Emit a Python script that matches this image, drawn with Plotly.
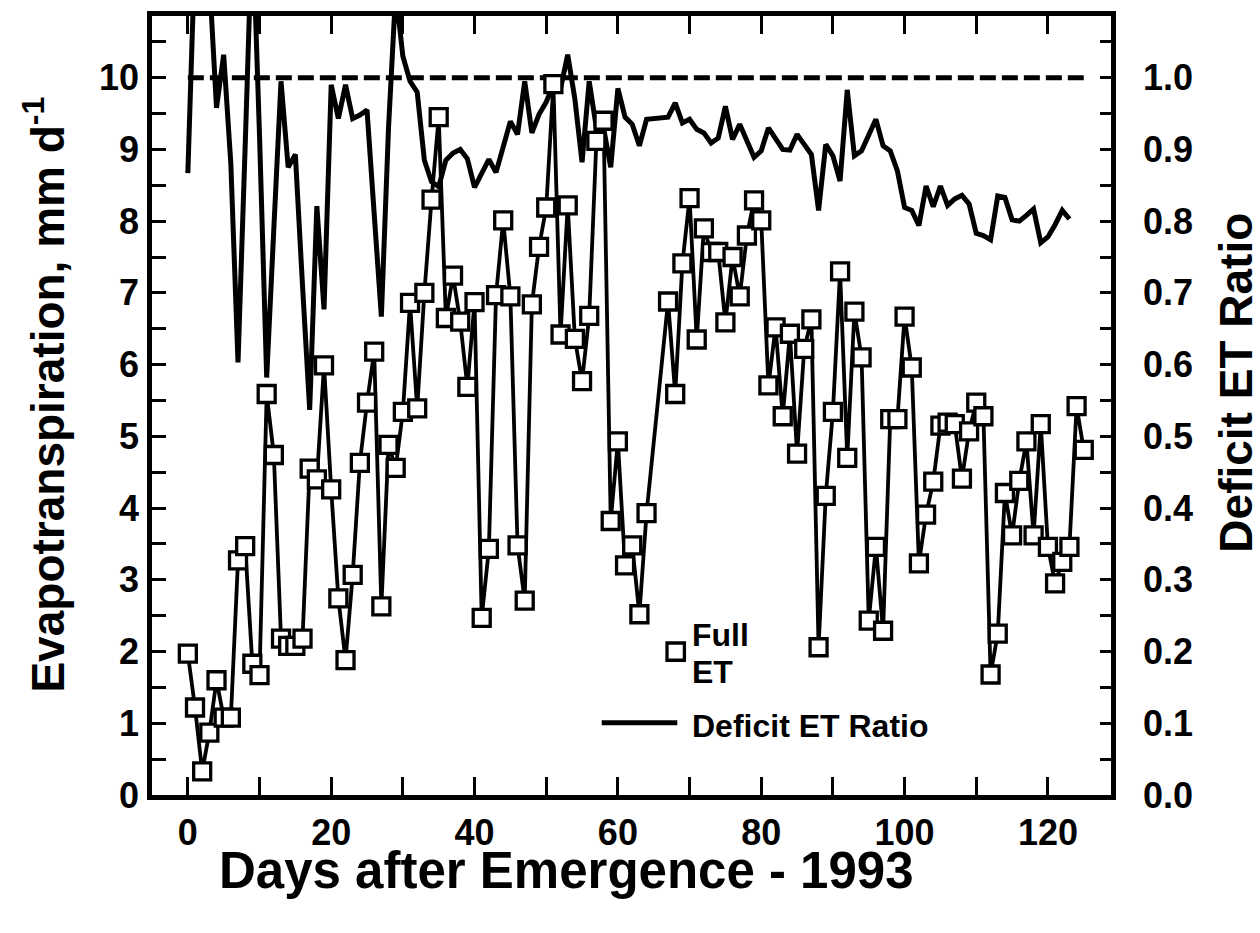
import plotly.graph_objects as go

# ---------------- data ----------------
days_full = list(range(0, 65)) + list(range(67, 126))
full_et = [
    1.97, 1.22, 0.33, 0.87, 1.60, 1.08, 1.08, 3.27, 3.47, 1.83,
    1.67, 5.59, 4.74, 2.18, 2.08, 2.08, 2.18, 4.55, 4.40, 5.99,
    4.26, 2.74, 1.88, 3.07, 4.63, 5.47, 6.18, 2.63, 4.88, 4.56,
    5.34, 6.86, 5.39, 7.00, 8.30, 9.45, 6.65, 7.24, 6.60, 5.69,
    6.87, 2.47, 3.43, 6.97, 8.01, 6.95, 3.48, 2.71, 6.84, 7.64,
    8.19, 9.91, 6.42, 8.22, 6.36, 5.77, 6.68, 9.12, 9.40, 3.82,
    4.93, 3.20, 3.48, 2.52, 3.93,
    6.88, 5.59, 7.41, 8.32, 6.35, 7.90, 7.57, 7.57, 6.59, 7.50,
    6.95, 7.80, 8.29, 8.01, 5.71, 6.52, 5.28, 6.43, 4.76, 6.22,
    6.63, 2.06, 4.17, 5.34, 7.30, 4.70, 6.74, 6.10, 2.43, 3.46,
    2.29, 5.24, 5.24, 6.67, 5.96, 3.23, 3.91, 4.37, 5.15, 5.19,
    5.17, 4.41, 5.07, 5.47, 5.28, 1.68, 2.25, 4.21, 3.62, 4.38,
    4.93, 3.62, 5.17, 3.46, 2.95, 3.25, 3.46, 5.42, 4.81,
]

days_ratio = list(range(0, 65)) + list(range(67, 124))
deficit_ratio = [
    0.867, 1.18, 1.25, 1.14, 0.958, 1.032, 0.88, 0.603, 0.905, 1.22,
    0.92, 0.582, 0.79, 0.995, 0.875, 0.893, 0.71, 0.537, 0.821, 0.677,
    0.99, 0.943, 0.99, 0.943, 0.948, 0.955, 0.81, 0.667, 0.93, 1.12,
    1.03, 0.995, 0.98, 0.885, 0.855, 0.848, 0.885, 0.895, 0.90, 0.887,
    0.847, 0.868, 0.886, 0.868, 0.903, 0.939, 0.921, 0.995, 0.923, 0.949,
    0.966, 0.99, 0.985, 1.032, 0.97, 0.882, 0.995, 0.93, 0.93, 0.875,
    0.985, 0.945, 0.935, 0.905, 0.942,
    0.945, 0.965, 0.937, 0.942, 0.928, 0.923, 0.909, 0.916, 0.96, 0.914,
    0.935, 0.912, 0.889, 0.898, 0.93, 0.915, 0.90, 0.899, 0.921, 0.907,
    0.893, 0.815, 0.907, 0.891, 0.856, 0.983, 0.891, 0.898, 0.92, 0.942,
    0.905, 0.898, 0.87, 0.819, 0.815, 0.794, 0.849, 0.82, 0.849, 0.822,
    0.831, 0.836, 0.824, 0.783, 0.78, 0.774, 0.835, 0.833, 0.802, 0.80,
    0.808, 0.817, 0.77, 0.778, 0.795, 0.815, 0.803,
]

ref_days = [0, 125]
ref_ratio = [1.0, 1.0]

x_ticks = [0, 20, 40, 60, 80, 100, 120]
et_ticks = list(range(0, 11))
ratio_ticks = [round(0.1 * i, 1) for i in range(11)]

# ---------------- figure ----------------
FONT = "Liberation Sans"
W, H = 1260, 933
L, R, T, B = 152, 149, 11, 138
PW, PH = W - L - R, H - T - B


def px(xp):
    return (xp - L) / PW


def py(yp):
    return (H - B - yp) / PH


fig = go.Figure()

fig.add_trace(go.Scatter(
    x=ref_days, y=ref_ratio, yaxis="y", mode="lines",
    line=dict(color="black", width=5, dash="16px,6px"),
    showlegend=False, hoverinfo="skip",
))
fig.add_trace(go.Scatter(
    x=days_ratio, y=deficit_ratio, yaxis="y", mode="lines",
    line=dict(color="black", width=5), name="Deficit ET Ratio",
    showlegend=False,
))
fig.add_trace(go.Scatter(
    x=days_full, y=full_et, yaxis="y2", mode="lines+markers",
    line=dict(color="black", width=3.8),
    marker=dict(symbol="square", size=17, color="white",
                line=dict(color="black", width=3.3)),
    name="Full ET", showlegend=False,
))

tickfont = dict(family=FONT, size=36, color="black", weight="bold")
titlefont = dict(family=FONT, size=46, color="black", weight="bold")
xtitlefont = dict(family=FONT, size=51, color="black", weight="bold")
legfont = dict(family=FONT, size=32, color="black", weight="bold")

fig.update_layout(
    width=W, height=H,
    margin=dict(l=L, r=R, t=T, b=B, pad=0),
    paper_bgcolor="white", plot_bgcolor="white",
    showlegend=False,
    xaxis=dict(
        range=[-5, 128.8], tickvals=x_ticks, ticks="inside", ticklen=18,
        tickwidth=3, tickcolor="black", showline=True, linewidth=4.5,
        linecolor="black", mirror="allticks", showgrid=False, zeroline=False,
        tickfont=tickfont, ticklabelstandoff=2,
        minor=dict(dtick=10, tick0=0, ticks="inside", ticklen=10,
                   tickwidth=3, tickcolor="black", showgrid=False),
    ),
    yaxis=dict(
        side="right", range=[0, 1.086], tickvals=ratio_ticks,
        tickformat=".1f", ticks="inside", ticklen=11, tickwidth=3,
        tickcolor="black", showline=True, linewidth=4.5, linecolor="black",
        showgrid=False, zeroline=False, tickfont=tickfont,
        ticklabelstandoff=20,
        minor=dict(dtick=0.05, tick0=0, ticks="inside", ticklen=11,
                   tickwidth=3, tickcolor="black", showgrid=False),
    ),
    yaxis2=dict(
        overlaying="y", side="left", range=[0, 10.86], tickvals=et_ticks,
        ticks="inside", ticklen=14, tickwidth=3, tickcolor="black",
        showline=True, linewidth=4.5, linecolor="black", showgrid=False,
        zeroline=False, tickfont=tickfont, ticklabelstandoff=1,
        minor=dict(dtick=0.5, tick0=0, ticks="inside", ticklen=14,
                   tickwidth=3, tickcolor="black", showgrid=False),
    ),
)

# axis titles
fig.add_annotation(text="Days after Emergence - 1993", xref="paper", yref="paper",
                   x=px(566), y=py(871), xanchor="center", yanchor="middle",
                   showarrow=False, font=xtitlefont)
fig.add_annotation(text="Evapotranspiration, mm d<sup>-1</sup>", xref="paper",
                   yref="paper", x=px(44), y=py(392), xanchor="center",
                   yanchor="middle", textangle=-90, showarrow=False,
                   font=titlefont)
fig.add_annotation(text="Deficit ET Ratio", xref="paper", yref="paper",
                   x=px(1236), y=py(380), xanchor="center", yanchor="middle",
                   textangle=-90, showarrow=False, font=titlefont)

# legend (drawn manually to match the original layout)
fig.add_shape(type="rect", xref="paper", yref="paper",
              x0=px(667.0), x1=px(684.4), y0=py(659.4), y1=py(642.0),
              line=dict(color="black", width=3.3), fillcolor="white")
fig.add_shape(type="line", xref="paper", yref="paper",
              x0=px(601.7), x1=px(677.3), y0=py(722.3), y1=py(722.3),
              line=dict(color="black", width=5))
fig.add_annotation(text="Full", xref="paper", yref="paper", x=px(690),
                   y=py(634), xanchor="left", yanchor="middle",
                   showarrow=False, font=legfont)
fig.add_annotation(text="ET", xref="paper", yref="paper", x=px(690),
                   y=py(671), xanchor="left", yanchor="middle",
                   showarrow=False, font=legfont)
fig.add_annotation(text="Deficit ET Ratio", xref="paper", yref="paper",
                   x=px(690), y=py(726), xanchor="left", yanchor="middle",
                   showarrow=False, font=legfont)

fig.write_html("out.html",
               config={"displayModeBar": False},
               post_script="document.body.style.margin='0';"
                           "document.body.style.overflow='hidden';")
